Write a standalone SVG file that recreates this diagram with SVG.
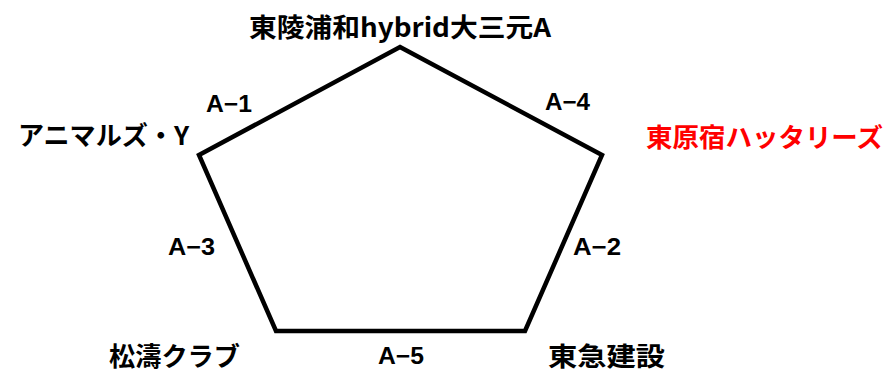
<svg xmlns="http://www.w3.org/2000/svg" width="890" height="374" viewBox="0 0 890 374">
<style>
.t{font-family:"Noto Sans CJK JP","Liberation Sans",sans-serif;font-weight:bold;font-size:26px;fill:#000}
.e{font-family:"Liberation Sans","Noto Sans CJK JP",sans-serif;font-weight:bold;font-size:23px;fill:#000}
.red{fill:#ff0000}
.edge{fill:none;stroke:#000;stroke-width:4.5;stroke-linejoin:miter}
</style>
<rect width="890" height="374" fill="#fff"/>
<g id="connectors">
<polygon class="edge" points="400,47 602,155 525,331 276,331 199,155"/>
</g>
<g id="edge-labels">
<text class="e" x="206" y="112" textLength="46" lengthAdjust="spacingAndGlyphs">A−1</text>
<text class="e" x="545" y="110" textLength="45" lengthAdjust="spacingAndGlyphs">A−4</text>
<text class="e" x="168" y="255" textLength="47" lengthAdjust="spacingAndGlyphs">A−3</text>
<text class="e" x="573" y="255" textLength="48" lengthAdjust="spacingAndGlyphs">A−2</text>
<text class="e" x="378" y="364" textLength="46" lengthAdjust="spacingAndGlyphs">A−5</text>
</g>
<g id="node-top"><text class="t" x="400" y="37" text-anchor="middle" textLength="302" lengthAdjust="spacingAndGlyphs">東陵浦和hybrid大三元A</text></g>
<g id="node-left"><text class="t" x="18" y="145" textLength="171" lengthAdjust="spacingAndGlyphs">アニマルズ・Y</text></g>
<g id="node-right"><text class="t red" x="646" y="147" textLength="237" lengthAdjust="spacingAndGlyphs">東原宿ハッタリーズ</text></g>
<g id="node-bottom-left"><text class="t" x="109" y="366" textLength="131" lengthAdjust="spacingAndGlyphs">松濤クラブ</text></g>
<g id="node-bottom-right"><text class="t" x="548" y="366" textLength="117" lengthAdjust="spacingAndGlyphs">東急建設</text></g>
</svg>
